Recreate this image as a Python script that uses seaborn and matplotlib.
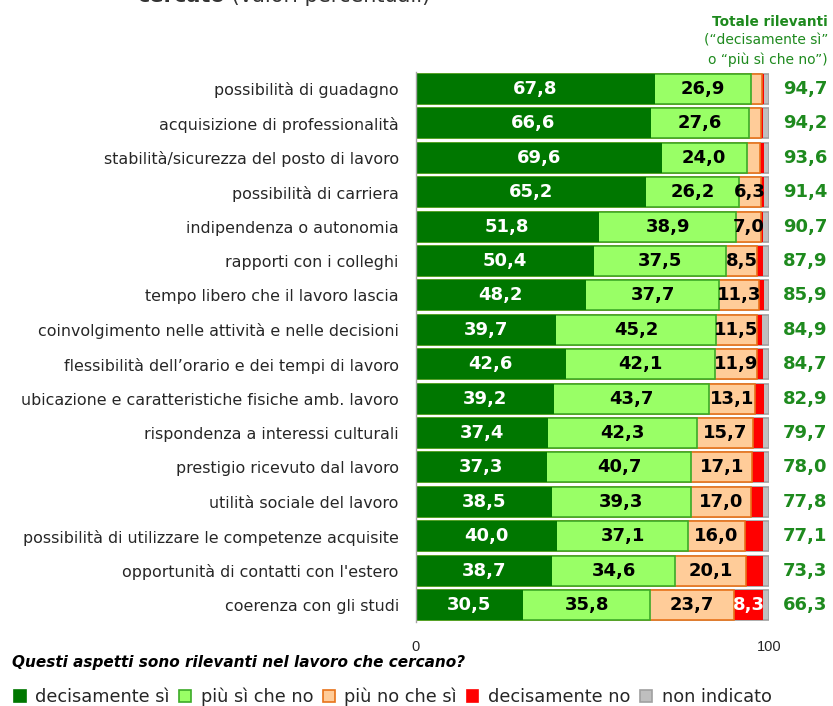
import matplotlib
matplotlib.use("Agg")
import matplotlib.pyplot as plt
from matplotlib.patches import Patch
import seaborn as sns
import pandas as pd
import numpy as np

categories = [
    "possibilità di guadagno",
    "acquisizione di professionalità",
    "stabilità/sicurezza del posto di lavoro",
    "possibilità di carriera",
    "indipendenza o autonomia",
    "rapporti con i colleghi",
    "tempo libero che il lavoro lascia",
    "coinvolgimento nelle attività e nelle decisioni",
    "flessibilità dell’orario e dei tempi di lavoro",
    "ubicazione e caratteristiche fisiche amb. lavoro",
    "rispondenza a interessi culturali",
    "prestigio ricevuto dal lavoro",
    "utilità sociale del lavoro",
    "possibilità di utilizzare le competenze acquisite",
    "opportunità di contatti con l'estero",
    "coerenza con gli studi",
]
decisamente_si = [67.8, 66.6, 69.6, 65.2, 51.8, 50.4, 48.2, 39.7, 42.6, 39.2, 37.4, 37.3, 38.5, 40.0, 38.7, 30.5]
piu_si_che_no = [26.9, 27.6, 24.0, 26.2, 38.9, 37.5, 37.7, 45.2, 42.1, 43.7, 42.3, 40.7, 39.3, 37.1, 34.6, 35.8]
piu_no_che_si = [3.3, 3.4, 3.8, 6.3, 7.0, 8.5, 11.3, 11.5, 11.9, 13.1, 15.7, 17.1, 17.0, 16.0, 20.1, 23.7]
decisamente_no = [0.5, 0.6, 1.0, 0.7, 0.6, 1.9, 1.2, 1.6, 1.6, 2.4, 2.8, 3.3, 3.5, 5.2, 4.9, 8.3]
non_indicato = [1.5, 1.8, 1.6, 1.6, 1.7, 1.7, 1.6, 2.0, 1.8, 1.6, 1.8, 1.6, 1.7, 1.7, 1.7, 1.7]

series_names = ["decisamente sì", "più sì che no", "più no che sì", "decisamente no", "non indicato"]
face_colors = ["#007700", "#99FF66", "#FFCC99", "#FF0000", "#BFBFBF"]
edge_colors = ["#007700", "#3CAA28", "#E8731A", "#FF0000", "#A0A0A0"]
label_colors = ["white", "black", "black", "white", "black"]
total_green = "#1E8A1E"

sns.set_style("white")
plt.rcParams["font.family"] = ["DejaVu Sans"]

values = np.array([decisamente_si, piu_si_che_no, piu_no_che_si, decisamente_no, non_indicato])
cumulative = np.cumsum(values, axis=0)
totale = values[0] + values[1]

fig = plt.figure(figsize=(8.33, 7.06), dpi=100)
W, H = 833, 706
ax = fig.add_axes([415.5 / W, 1 - 622.2 / H, (769.3 - 415.5) / W, (622.2 - 71.8) / H])

# stacked bars: draw cumulative totals from the back layer to the front one
for k in range(4, -1, -1):
    df = pd.DataFrame({"categoria": categories, "valore": cumulative[k]})
    sns.barplot(data=df, x="valore", y="categoria", orient="h", ax=ax,
                color=face_colors[k], edgecolor=edge_colors[k],
                linewidth=1.2 if k in (1, 2, 4) else 0, width=0.87,
                saturation=1, errorbar=None)

# segment labels
for k in range(5):
    starts = cumulative[k] - values[k]
    for i, v in enumerate(values[k]):
        if v >= 6:
            ax.text(starts[i] + v / 2, i, f"{v:.1f}".replace(".", ","),
                    ha="center", va="center", fontsize=13, fontweight="bold",
                    color=label_colors[k])

# totals of positive answers
for i, t in enumerate(totale):
    ax.text(103.9, i, f"{t:.1f}".replace(".", ","), ha="left", va="center",
            fontsize=13, fontweight="bold", color=total_green, clip_on=False)

ax.set_xlim(0, 100)
ax.set_ylim(15.5, -0.5)
ax.set_xticks([0, 100])
ax.set_xticklabels(["0", "100"], fontfamily="Liberation Sans", fontsize=10.5)
ax.tick_params(axis="x", length=0, pad=13)
ax.tick_params(axis="y", length=0, pad=12, labelsize=11.4)
ax.set_xlabel("")
ax.set_ylabel("")
for side in ("top", "right", "bottom"):
    ax.spines[side].set_visible(False)
ax.spines["left"].set_color("#A6A6A6")
ax.spines["left"].set_linewidth(1)

# header above the totals column
fig.text(828 / W, 1 - 22 / H, "Totale rilevanti", ha="right", va="center",
         fontsize=9.8, fontweight="bold", color=total_green)
fig.text(828 / W, 1 - 41 / H, "(“decisamente sì”", ha="right", va="center",
         fontsize=10, color=total_green)
fig.text(828 / W, 1 - 60 / H, "o “più sì che no”)", ha="right", va="center",
         fontsize=10, color=total_green)

# title line
t1 = fig.text(137 / W, 1 - 2.5 / H, "cercato", ha="left", va="baseline",
              fontsize=15, fontweight="bold", color="#333333")
fig.canvas.draw()
fig.text(t1.get_window_extent().x1 / W, 1 - 2.5 / H, " (valori percentuali)",
         ha="left", va="baseline", fontsize=15, color="#333333")

# question
fig.text(12 / W, 1 - 662 / H, "Questi aspetti sono rilevanti nel lavoro che cercano?",
         ha="left", va="center", fontsize=11, fontweight="bold", style="italic",
         color="black")

handles = [Patch(facecolor=f, edgecolor=e, linewidth=1.2) for f, e in zip(face_colors, edge_colors)]
fig.legend(handles, series_names, loc="center left", bbox_to_anchor=(14 / W, 1 - 697 / H),
           ncol=5, frameon=False, handlelength=0.65, handleheight=0.65,
           handletextpad=0.55, columnspacing=0.55, fontsize=12.8,
           borderaxespad=0, borderpad=0)

fig.savefig("out.png", dpi=100)
